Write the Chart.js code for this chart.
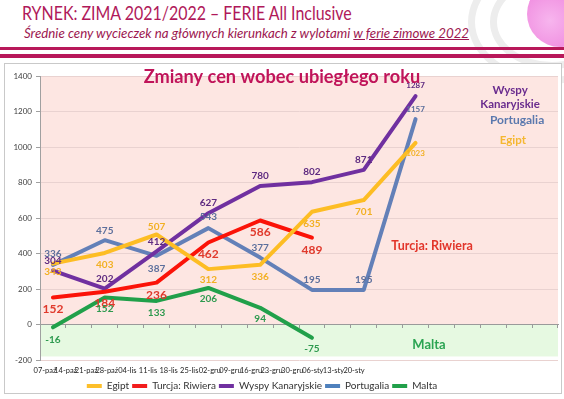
<!DOCTYPE html>
<html lang="pl">
<head>
<meta charset="utf-8">
<title>RYNEK: ZIMA 2021/2022 – FERIE All Inclusive</title>
<script src="https://cdn.jsdelivr.net/npm/chart.js@4"></script>
<style>
  html, body { margin: 0; padding: 0; background: #fff; }
  body { width: 564px; height: 399px; position: relative; overflow: hidden; font-family: Lato, "Open Sans", sans-serif; }
  .arc { position: absolute; border: 7px solid #ededed; border-radius: 50%; }
  .globe { position: absolute; left: 527px; top: -19px; width: 66px; height: 66px; border-radius: 50%;
           background: radial-gradient(circle at 35% 60%, #f7b5ee 0%, #f08ee0 55%, #ea7ad8 100%); }
  .head { position: absolute; left: 22px; top: 0; margin: 0; font-size: 20px; font-weight: 400; color: #b0195a;
          white-space: nowrap; transform-origin: 0 0; }
  .sub { position: absolute; left: 24px; top: 25px; margin: 0; font-size: 13.3px; font-style: italic; font-weight: 400; color: #9c1750; white-space: nowrap; }
  .stripe { position: absolute; left: 0; width: 564px; background: #b8185a; }
  .frame { position: absolute; left: 4px; top: 63px; width: 556px; height: 329px; border: 1px solid #c9c9c9; background: #fff; }
  .box { position: absolute; left: 4px; top: 63px; width: 558px; height: 338px; }
</style>
</head>
<body>
<div class="arc" style="left:468px; top:-40px; width:150px; height:110px;"></div>
<div class="arc" style="left:490px; top:-25px; width:110px; height:80px;"></div>
<div class="globe"></div>
<div class="head" id="head">RYNEK: ZIMA 2021/2022 – FERIE All Inclusive</div>
<div class="sub">Średnie ceny wycieczek na głównych kierunkach z wylotami <u>w ferie zimowe 2022</u></div>
<div class="stripe" style="top:47px; height:3px;"></div>
<div class="stripe" style="top:54px; height:4px;"></div>
<div class="frame"></div>
<div class="box"><canvas id="chart"></canvas></div>

<script>
// weekly categories (data every second week)
const weeks = ['07-paź', '14-paź', '21-paź', '28-paź', '04-lis', '11-lis', '18-lis', '25-lis',
               '02-gru', '09-gru', '16-gru', '23-gru', '30-gru', '06-sty', '13-sty', '20-sty',
               '27-sty', '03-lut', '10-lut', '17-lut'];
const tickLabels = ['07-paź', '14-paź', '21-paź', '28-paź', '04-lis', '11-lis', '18-lis', '25-lis',
                    '02-gru', '09-gru', '16-gru', '23-gru', '30-gru', '06-sty', '13-sty', '20-sty'];

const egipt      = [343, null, 403, null, 507, null, 312, null, 336, null, 635, null, 701, null, 1023, null, null, null, null, null];
const turcja     = [152, null, 184, null, 236, null, 462, null, 586, null, 489, null, null, null, null, null, null, null, null, null];
const wyspy      = [304, null, 202, null, 412, null, 627, null, 780, null, 802, null, 871, null, 1287, null, null, null, null, null];
const portugalia = [336, null, 475, null, 387, null, 543, null, 377, null, 195, null, 195, null, 1157, null, null, null, null, null];
const malta      = [-16, null, 152, null, 133, null, 206, null, 94, null, -75, null, null, null, null, null, null, null, null, null];

const yMin = -200, yMax = 1400, yStep = 200;

// label offsets (px, vertical) for each drawn point
const egiptDy      = [8, 12, -8, 11, 12, 12, 12, 11];
const turcjaDy     = [12, 11, 13, 12, 12, 12];
const wyspyDy      = [-10, -10, -10, -10, -10, -10, -10, -11];
const portugaliaDy = [-11, -9, 13, -11, -10, -10, -10, -10];
const maltaDy      = [12, 11, 12, 11, 11, 11];

const FONT = 'Lato, "Open Sans", sans-serif';

// header is set in a narrow face in the original; squeeze to its width
const head = document.getElementById('head');
head.style.transform = `scaleX(${330 / head.offsetWidth})`;

// pink / green plot bands
const plotBands = {
    id: 'plotBands',
    beforeDraw(chart) {
        const { ctx, chartArea: a, scales: { y } } = chart;
        ctx.save();
        ctx.fillStyle = '#fde6e2';
        ctx.fillRect(a.left, y.getPixelForValue(yMax), a.right - a.left, y.getPixelForValue(0) - y.getPixelForValue(yMax));
        ctx.fillStyle = '#e6f9e1';
        ctx.fillRect(a.left, y.getPixelForValue(0), a.right - a.left, y.getPixelForValue(-180) - y.getPixelForValue(0));
        ctx.restore();
    }
};

// value labels next to points
const pointLabels = {
    id: 'pointLabels',
    afterDatasetsDraw(chart) {
        const { ctx } = chart;
        ctx.save();
        ctx.textAlign = 'center';
        ctx.textBaseline = 'middle';
        chart.data.datasets.forEach((ds, i) => {
            const meta = chart.getDatasetMeta(i);
            let k = 0;
            ds.data.forEach((v, j) => {
                if (v === null) return;
                const pt = meta.data[j];
                const size = j === 14 ? 8 : ds.labelSize;
                ctx.font = `bold ${size}px ${FONT}`;
                ctx.fillStyle = ds.labelColor;
                ctx.fillText(String(v), pt.x, pt.y + ds.labelDy[k]);
                k++;
            });
        });
        ctx.restore();
    }
};

// chart title and series names inside the plot
const notes = [
    { text: 'Zmiany cen wobec ubiegłego roku', x: 8.84, y: 1393, size: 18.2, color: '#c0145a' },
    { text: 'Wyspy', x: 17.65, y: 1320, size: 11.5, color: '#6a2c8e' },
    { text: 'Kanaryjskie', x: 17.65, y: 1241, size: 11.5, color: '#6a2c8e' },
    { text: 'Portugalia', x: 17.92, y: 1151, size: 12, color: '#5b79ae' },
    { text: 'Egipt', x: 17.76, y: 1038, size: 11.5, color: '#f5b731' },
    { text: 'Turcja: Riwiera', x: 14.64, y: 442, size: 12.5, color: '#e2352b' },
    { text: 'Malta', x: 14.52, y: -115, size: 13, color: '#2ba452' }
];
const notesPlugin = {
    id: 'notes',
    afterDatasetsDraw(chart) {
        const { ctx, scales: { x, y } } = chart;
        ctx.save();
        ctx.textAlign = 'center';
        ctx.textBaseline = 'middle';
        notes.forEach(n => {
            ctx.font = `bold ${n.size}px ${FONT}`;
            ctx.fillStyle = n.color;
            ctx.fillText(n.text, x.getPixelForValue(n.x), y.getPixelForValue(n.y));
        });
        ctx.restore();
    }
};

// legend sits a bit left of centre in the original
const legendShift = {
    id: 'legendShift',
    afterLayout(chart) {
        chart.legend.left -= 19;
        chart.legend.right -= 19;
    }
};

const series = [
    { label: 'Egipt', data: egipt, color: '#fdbd24', legend: '#fdbf2a', labelColor: '#f2b023', labelSize: 10, labelDy: egiptDy },
    { label: 'Turcja: Riwiera', data: turcja, color: '#fb1308', legend: '#f21d1d', labelColor: '#e0392c', labelSize: 12, labelDy: turcjaDy },
    { label: 'Wyspy Kanaryjskie', data: wyspy, color: '#7030a0', legend: '#7030a0', labelColor: '#5e2a80', labelSize: 10, labelDy: wyspyDy },
    { label: 'Portugalia', data: portugalia, color: '#6380b8', legend: '#4f81bd', labelColor: '#5c6f9c', labelSize: 10, labelDy: portugaliaDy },
    { label: 'Malta', data: malta, color: '#21a04a', legend: '#21a04a', labelColor: '#2e9a4f', labelSize: 10, labelDy: maltaDy }
];

new Chart(document.getElementById('chart'), {
    type: 'line',
    data: {
        labels: weeks,
        datasets: series.map(s => ({
            label: s.label,
            data: s.data,
            borderColor: s.color,
            backgroundColor: s.legend,
            labelColor: s.labelColor,
            labelSize: s.labelSize,
            labelDy: s.labelDy,
            spanGaps: true
        }))
    },
    options: {
        responsive: true,
        maintainAspectRatio: false,
        animation: false,
        layout: { padding: { top: 13, right: 4, left: 0, bottom: 0 } },
        elements: {
            line: { tension: 0, borderWidth: 4, borderCapStyle: 'round', borderJoinStyle: 'round' },
            point: { radius: 0, hoverRadius: 0 }
        },
        scales: {
            x: {
                type: 'category',
                position: { y: 0 },
                offset: true,
                grid: { offset: true, drawOnChartArea: false, tickLength: 3, color: '#9a9a9a' },
                border: { color: '#9a9a9a' },
                ticks: { display: false }
            },
            xl: {
                type: 'linear',
                axis: 'x',
                position: 'bottom',
                min: -0.243,
                max: 24.9,
                grid: { display: false, drawTicks: false },
                border: { display: false },
                afterBuildTicks: s => { s.ticks = tickLabels.map((_, i) => ({ value: i })); },
                afterFit: s => { s.height = 18; },
                ticks: {
                    autoSkip: false, maxRotation: 0, padding: 6,
                    color: '#222', font: { family: FONT, size: 7.5 },
                    callback: (v) => tickLabels[v]
                }
            },
            y: {
                min: yMin,
                max: yMax,
                afterFit: s => { s.width = 36; },
                grid: { color: '#e9d2d0', tickColor: '#a0a0a0', tickLength: 4 },
                border: { color: '#a0a0a0' },
                ticks: { stepSize: yStep, padding: 4, color: '#404040', font: { family: FONT, size: 8 }, callback: v => String(v) }
            }
        },
        plugins: {
            legend: {
                position: 'bottom',
                labels: {
                    boxWidth: 15, boxHeight: 4, padding: 3,
                    color: '#333', font: { family: FONT, size: 10 },
                    generateLabels: chart => chart.data.datasets.map((ds, i) => ({
                        text: ds.label, fillStyle: ds.backgroundColor, strokeStyle: ds.backgroundColor,
                        lineWidth: 0, datasetIndex: i, fontColor: '#333'
                    }))
                }
            },
            tooltip: { enabled: false }
        }
    },
    plugins: [plotBands, pointLabels, notesPlugin, legendShift]
});
</script>
</body>
</html>
